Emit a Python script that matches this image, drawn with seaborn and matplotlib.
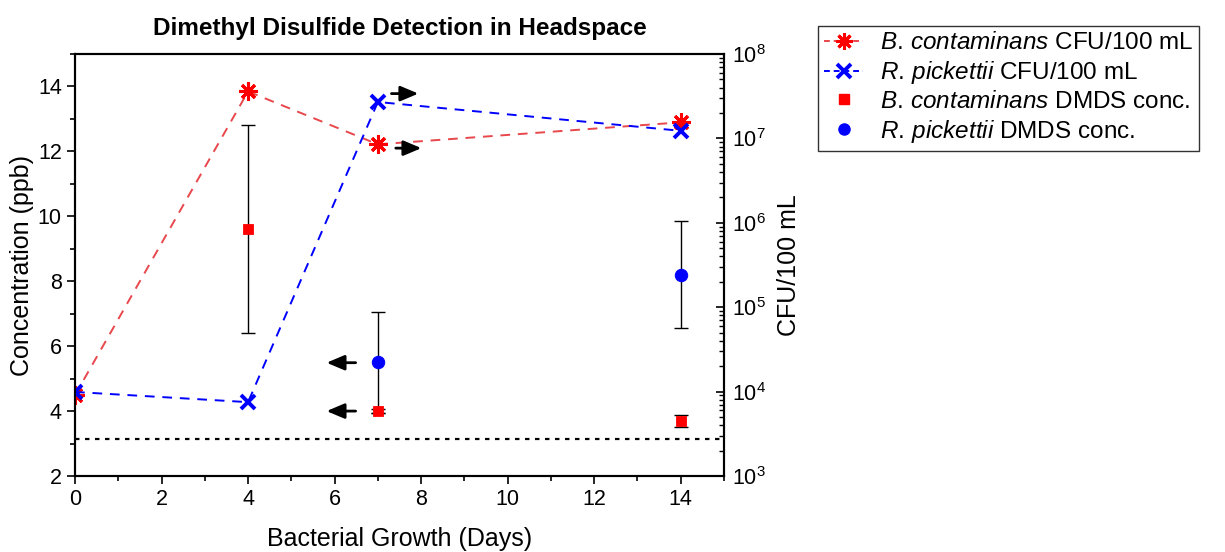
import numpy as np
import pandas as pd
import matplotlib
matplotlib.use("Agg")
import matplotlib.pyplot as plt
import seaborn as sns
from matplotlib.lines import Line2D
from matplotlib.ticker import LogLocator, MultipleLocator, NullFormatter

# ---- data ----
days_cfu = [0, 4, 7, 14]
bc_cfu = [9.1e3, 3.6e7, 8.5e6, 1.55e7]
rp_cfu = [9.9e3, 7.5e3, 2.7e7, 1.23e7]

bc_days = [4, 7, 14]
bc_conc = [9.6, 4.0, 3.7]
bc_err = [3.2, 0.05, 0.18]

rp_days = [7, 14]
rp_conc = [5.5, 8.2]
rp_err = [1.55, 1.65]

lod = 3.15

sns.set_theme(style="white")
plt.rcParams['font.family'] = ['Liberation Sans', 'DejaVu Sans']
plt.rcParams['mathtext.fontset'] = 'custom'
plt.rcParams['mathtext.rm'] = 'Liberation Sans'
plt.rcParams['mathtext.it'] = 'Liberation Sans:italic'
plt.rcParams['mathtext.bf'] = 'Liberation Sans:bold'
for k in ['text.color', 'axes.labelcolor', 'xtick.color', 'ytick.color']:
    plt.rcParams[k] = 'black'

fig = plt.figure(figsize=(12.25, 5.52), dpi=100)
ax = fig.add_axes([75/1225, 1-476/552, (724-75)/1225, (476-54)/552])
ax2 = ax.twinx()

red = "#ff0000"
redline = "#e8474c"
blue = "#0000ff"
ast = (8, 2, 0)

df_bc = pd.DataFrame({"day": days_cfu, "cfu": bc_cfu})
df_rp = pd.DataFrame({"day": days_cfu, "cfu": rp_cfu})
sns.lineplot(data=df_bc, x="day", y="cfu", ax=ax2, color=redline, linestyle=(0, (5, 4)),
             lw=1.4, marker=ast, markersize=13, markeredgewidth=2.2,
             markeredgecolor=red, markerfacecolor=red, zorder=3)
sns.lineplot(data=df_rp, x="day", y="cfu", ax=ax2, color=blue, linestyle=(0, (5, 4)),
             lw=1.4, marker="x", markersize=10, markeredgewidth=2.8,
             markeredgecolor=blue, zorder=3)

ax.errorbar(bc_days, bc_conc, yerr=bc_err, fmt="none", ecolor="black", elinewidth=1, capsize=5, zorder=2)
ax.errorbar(rp_days, rp_conc, yerr=rp_err, fmt="none", ecolor="black", elinewidth=1, capsize=5, zorder=2)
sns.scatterplot(x=bc_days, y=bc_conc, ax=ax, marker="s", s=55, color=red, edgecolor=red, zorder=4)
sns.scatterplot(x=rp_days, y=rp_conc, ax=ax, marker="o", s=80, color=blue, edgecolor=blue, zorder=4)

ax.axhline(lod, color="black", linestyle=(0, (2, 2.5)), lw=1.6, zorder=1)

ax.set_xlim(0, 15)
ax.set_ylim(2, 15)
ax2.set_yscale("log")
ax2.set_ylim(1e3, 1e8)
ax.set_zorder(ax2.get_zorder() + 1)
ax.patch.set_visible(False)

# arrows
arrow_kw = dict(arrowstyle="-|>,head_length=0.9,head_width=0.38", color="black", lw=2.0)
ax.annotate("", xy=(8.0, 13.78), xytext=(7.25, 13.78), arrowprops=arrow_kw)
ax.annotate("", xy=(8.07, 12.1), xytext=(7.35, 12.1), arrowprops=arrow_kw)
ax.annotate("", xy=(5.75, 5.49), xytext=(6.55, 5.49), arrowprops=arrow_kw)
ax.annotate("", xy=(5.75, 4.0), xytext=(6.55, 4.0), arrowprops=arrow_kw)

ax.set_xticks([0, 2, 4, 6, 8, 10, 12, 14])
ax.xaxis.set_minor_locator(MultipleLocator(1))
ax.set_yticks([2, 4, 6, 8, 10, 12, 14])
ax.yaxis.set_minor_locator(MultipleLocator(1))
ax.tick_params(axis="both", which="major", direction="out", length=6, width=1.2, labelsize=15.5, colors="black")
ax.tick_params(axis="both", which="minor", direction="out", length=3.5, width=1.2)
ax.tick_params(axis="x", which="both", bottom=True)
ax.tick_params(axis="y", which="both", left=True)

ax2.yaxis.set_major_locator(LogLocator(base=10, numticks=10))
ax2.yaxis.set_minor_locator(LogLocator(base=10, subs=np.arange(2, 10), numticks=100))
ax2.yaxis.set_minor_formatter(NullFormatter())
ax2.tick_params(axis="y", which="major", direction="in", length=6, width=1.2, labelsize=15.5,
                right=True, pad=6, colors="black")
ax2.tick_params(axis="y", which="minor", direction="in", length=3.5, width=1.0, right=True)

for a in (ax, ax2):
    for s in a.spines.values():
        s.set_color("black")
        s.set_linewidth(1.5)

ax.set_xlabel("Bacterial Growth (Days)", fontsize=18, labelpad=12, color="black")
ax.set_ylabel("Concentration (ppb)", fontsize=18, labelpad=3, color="black")
ax2.set_ylabel("CFU/100 mL", fontsize=18, labelpad=8, color="black")
ax.set_title("Dimethyl Disulfide Detection in Headspace", fontsize=17.5, fontweight="bold",
             pad=14, color="black")
if ax2.get_legend():
    ax2.get_legend().remove()

handles = [
    Line2D([], [], color=redline, linestyle=(0, (3, 2)), lw=1.4, marker=ast, markersize=12,
           markeredgewidth=2.2, markeredgecolor=red),
    Line2D([], [], color=blue, linestyle=(0, (3, 2)), lw=1.4, marker="x", markersize=10,
           markeredgewidth=2.8, markeredgecolor=blue),
    Line2D([], [], color=red, linestyle="none", marker="s", markersize=7),
    Line2D([], [], color=blue, linestyle="none", marker="o", markersize=8),
]
labels = [
    r"$\it{B.\,contaminans}$ CFU/100 mL",
    r"$\it{R.\,pickettii}$ CFU/100 mL",
    r"$\it{B.\,contaminans}$ DMDS conc.",
    r"$\it{R.\,pickettii}$ DMDS conc.",
]
leg = fig.legend(handles, labels, loc="upper left", bbox_to_anchor=(806/1225, 1-14/552),
                 fontsize=17.5, frameon=True, fancybox=False, edgecolor="black",
                 handlelength=1.6, labelspacing=0.2, borderpad=0.25, handletextpad=0.7,
                 labelcolor="black")
leg.get_frame().set_linewidth(1.0)

fig.savefig("out.png", dpi=100)
